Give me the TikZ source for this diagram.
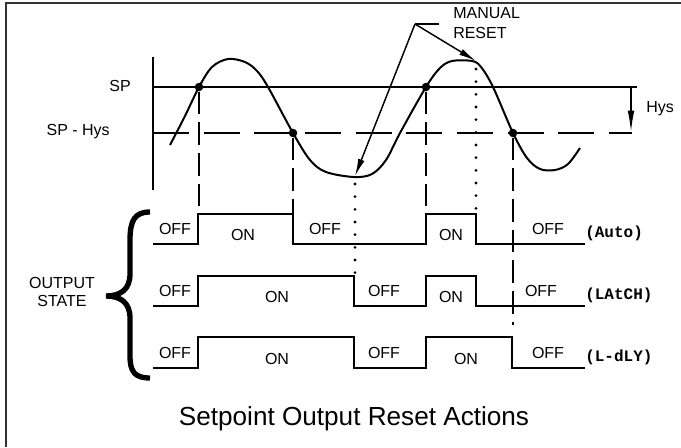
\documentclass[tikz,border=0pt]{standalone}
\usepackage{fontspec}
\setmainfont{Liberation Sans}
\newfontfamily\segfont{Liberation Mono}
\usetikzlibrary{arrows.meta}
\begin{document}
\begin{tikzpicture}[x=0.75pt,y=-0.75pt,
  frame/.style={line width=1.6pt, draw=black!80},
  axis/.style={line width=1.1pt},
  hdash/.style={line width=1.1pt, dash pattern=on 27pt off 11pt},
  vdash/.style={line width=1.1pt, dash pattern=on 17pt off 6pt},
  vdot/.style={line width=2.3pt, line cap=round, dash pattern=on 0pt off 9.5pt},
  curve/.style={line width=1.5pt},
  wave/.style={line width=1.3pt},
  lbl/.style={font=\fontsize{12}{14}\selectfont, inner sep=0pt},
  seg/.style={font=\fontsize{12}{14}\segfont\bfseries, inner sep=0pt, anchor=west},
  dot/.style={circle, fill=black, inner sep=0pt, minimum size=6.4pt},
  arr/.style={line width=1.1pt, -{Latex[length=13pt,width=5pt]}},
  hysarr/.style={line width=1.1pt, -{Latex[length=16pt,width=5pt]}}]
\useasboundingbox (0,0) rectangle (681,447);
% frame
\draw[frame] (681,3) -- (6,3) -- (6,447);
% axes
\draw[axis] (153,57) -- (153,190);
\draw[axis] (153,87) -- (637,87);
\draw[hdash] (153,133) -- (632,133);
% labels left
\node[lbl, anchor=east] (sp) at (131,86) {SP};
\node[lbl, anchor=east] (sphys) at (110,132) {SP - Hys};
% process curve
\draw[curve] plot[smooth, tension=0.55] coordinates {(170,145) (185,116) (199,87) (212,67) (228,59) (245,62) (257,71) (268,87) (293,133) (310,160) (326,172) (354,177) (372,174) (386,160) (400,133) (426,87) (440,68) (452,61) (472,61) (481,67) (493,87) (513,133) (527,158) (540,169) (555,170) (568,164) (580,148)};
% crossing points
\node[dot] (c1) at (199,87) {};
\node[dot] (c2) at (293,133) {};
\node[dot] (c3) at (426,87) {};
\node[dot] (c4) at (513,133) {};
\coordinate (trough) at (355,176);
\coordinate (peak) at (476,61);
% Hys
\coordinate (hysT) at (631,87);
\coordinate (hysB) at (631,132);
\draw[hysarr] (hysT) -- (hysB);
\node[lbl, anchor=west] (hys) at (646,109) {Hys};
% manual reset
\node[lbl, anchor=west] (manual) at (453,13) {MANUAL};
\node[lbl, anchor=west] (reset) at (453,33) {RESET};
\coordinate (apex) at (415,24);
\coordinate (tailr) at (439,24);
\draw[line width=1.1pt] (tailr) -- (apex);
\draw[arr] (apex) -- (peak);
\draw[arr] (apex) -- (trough);
% waveform edge coordinates
\coordinate (r1a) at (199,214);
\coordinate (r1b) at (293,214);
\coordinate (r1c) at (426,214);
\coordinate (r1d) at (476,214);
\coordinate (r2a) at (355,276);
\coordinate (r3d) at (513,325);
% vertical guides
\draw[vdash] (c1) -- (r1a);
\draw[vdash] (c2) -- (r1b);
\draw[vdash] (c3) -- (r1c);
\draw[vdash] (c4) -- (r3d);
\draw[vdot] ([yshift=-6pt]trough) -- (r2a);
\draw[vdot] ([yshift=-6pt]peak) -- (r1d);
% output waveforms
\draw[wave] (153,244) -| (198,214) -| (293,244) -| (426,214) -| (476,244) -- (585,244);
\draw[wave] (153,306) -| (198,276) -| (354,306) -| (426,276) -| (476,306) -- (585,306);
\draw[wave] (153,368) -| (198,337) -| (354,368) -| (426,337) -| (512,368) -- (585,368);
% row labels
\node[lbl] (o11) at (175,229) {OFF};
\node[lbl] (n11) at (243,235) {ON};
\node[lbl] (o12) at (325,229) {OFF};
\node[lbl] (n12) at (451,235) {ON};
\node[lbl] (o13) at (548,229) {OFF};
\node[seg] (auto) at (585,233) {(Auto)};
\node[lbl] (o21) at (175,291) {OFF};
\node[lbl] (n21) at (277,297) {ON};
\node[lbl] (o22) at (384,291) {OFF};
\node[lbl] (n22) at (451,297) {ON};
\node[lbl] (o23) at (541,291) {OFF};
\node[seg] (latch) at (585,295) {(LAtCH)};
\node[lbl] (o31) at (175,353) {OFF};
\node[lbl] (n31) at (277,359) {ON};
\node[lbl] (o32) at (384,353) {OFF};
\node[lbl] (n32) at (466,359) {ON};
\node[lbl] (o33) at (548,353) {OFF};
\node[seg] (ldly) at (585,357) {(L-dLY)};
% brace
\draw[line width=4pt] (150,212) .. controls (135,212) and (130,220) .. (130,240) -- (130,274) .. controls (130,289) and (121,296) .. (106,296) .. controls (121,296) and (130,303) .. (130,318) -- (130,356) .. controls (130,372) and (135,378) .. (150,378);
\node[lbl, align=center] (outstate) at (62,292) {OUTPUT\\[-1pt]STATE};
% title
\node[font=\fontsize{19.6}{22}\selectfont, inner sep=0pt] (title) at (354,419) {Setpoint Output Reset Actions};
\end{tikzpicture}
\end{document}
